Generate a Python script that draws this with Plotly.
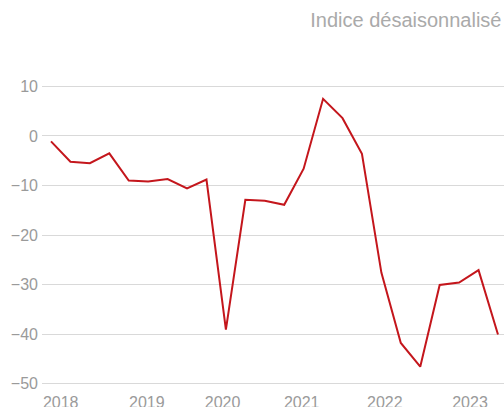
import plotly.graph_objects as go

# Quarterly series, 2018 Q1 .. 2023 Q4 (24 quarters)
quarters = [
    "2018T1", "2018T2", "2018T3", "2018T4",
    "2019T1", "2019T2", "2019T3", "2019T4",
    "2020T1", "2020T2", "2020T3", "2020T4",
    "2021T1", "2021T2", "2021T3", "2021T4",
    "2022T1", "2022T2", "2022T3", "2022T4",
    "2023T1", "2023T2", "2023T3", "2023T4",
]
values = [
    -1.1, -5.2, -5.5, -3.5,
    -9.0, -9.2, -8.7, -10.6,
    -8.8, -39.1, -12.9, -13.1,
    -13.9, -6.6, 7.5, 3.6,
    -3.6, -27.6, -41.8, -46.6,
    -30.1, -29.6, -27.1, -40.1,
]
year_labels = ["2018", "2019", "2020", "2021", "2022", "2023"]
year_label_pos = [0.5, 4.93, 8.83, 12.9, 17.18, 21.56]   # axis positions (quarter index units)
y_ticks = [10, 0, -10, -20, -30, -40, -50]

x_idx = list(range(len(values)))

FONT = "Liberation Sans"
GREY = "#9a9a9a"

fig = go.Figure()
fig.add_trace(go.Scatter(
    x=x_idx, y=values, text=quarters, mode="lines",
    line=dict(color="#c4161c", width=2),
    hovertemplate="%{text}: %{y}<extra></extra>",
))

fig.update_layout(
    width=504, height=407,
    margin=dict(l=42, r=0, t=83.5, b=20.8, autoexpand=False),
    paper_bgcolor="white", plot_bgcolor="white",
    showlegend=False,
    font=dict(family=FONT, color=GREY, size=16),
    title=dict(
        text="Indice désaisonnalisé",
        x=0.995, xanchor="right", xref="container",
        y=1 - 20 / 407, yanchor="middle", yref="container",
        font=dict(family=FONT, size=20, color="#aaaaaa"),
    ),
    xaxis=dict(
        range=[-0.463, 23.31], automargin=False,
        tickmode="array", tickvals=year_label_pos, ticktext=year_labels,
        showgrid=False, zeroline=False, showline=False, ticks="",
        tickfont=dict(family=FONT, size=16, color=GREY),
        ticklabelstandoff=5,
    ),
    yaxis=dict(
        range=[-50.5, 10.5], automargin=False,
        tickmode="array", tickvals=y_ticks,
        showgrid=True, gridcolor="#d9d9d9", gridwidth=1,
        zeroline=False, showline=False, ticks="",
        tickfont=dict(family=FONT, size=16, color=GREY),
        ticklabelstandoff=3,
    ),
)

fig.write_html(
    "out.html",
    config={"displayModeBar": False},
    post_script="document.body.style.margin='0';document.body.style.overflow='hidden';",
)
